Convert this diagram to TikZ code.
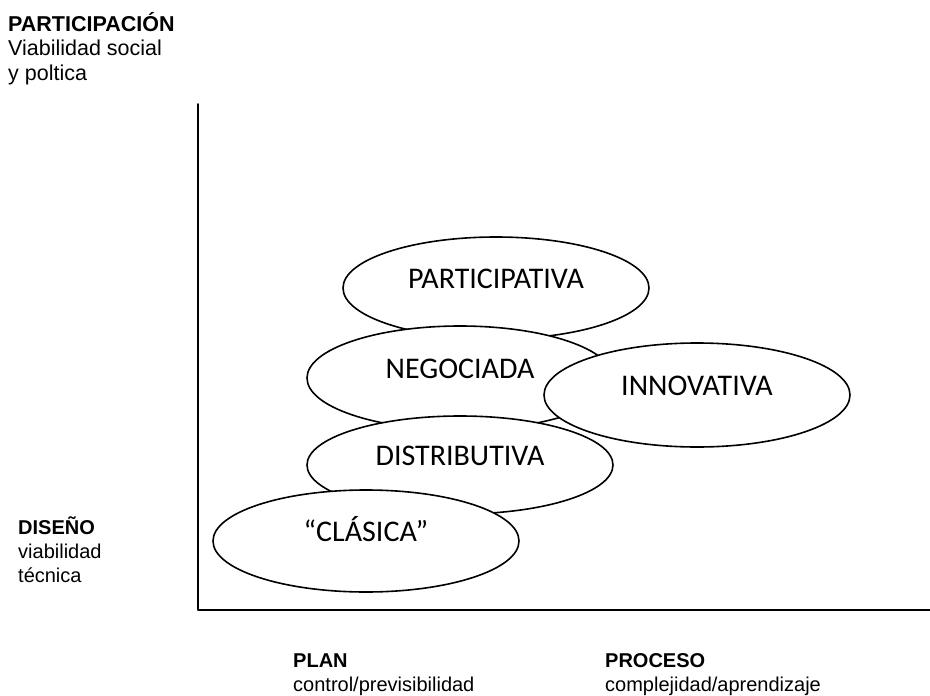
\documentclass[tikz,border=0pt]{standalone}
\usepackage{fontspec}
\setmainfont{Liberation Sans}
\newfontfamily\ovalfont{Carlito}
\usetikzlibrary{shapes.geometric}

\begin{document}
\begin{tikzpicture}[line cap=round,line join=round,x=1pt,y=-1pt,
  oval/.style={ellipse,draw,line width=1.6pt,fill=white,minimum width=306pt,minimum height=102pt,inner sep=0pt,
    font=\ovalfont\fontsize{30}{32}\selectfont,text height=18pt,text depth=18pt},
  axislabel/.style={anchor=base west,align=left,inner sep=0pt,font=\fontsize{20}{24}\selectfont}]
\useasboundingbox (0,0) rectangle (930,696);
% axes
\coordinate (origin) at (198,610);
\coordinate (ytop) at (198,104);
\coordinate (xend) at (931,610);
\draw[line width=1.6pt] (ytop)--(origin)--(xend);
% kinds of planning
\node[oval] (participativa) at (496,288) {PARTICIPATIVA};
\node[oval,minimum height=104pt] (negociada) at (460,378) {NEGOCIADA};
\node[oval,minimum height=104pt] (innovativa) at (697,395) {INNOVATIVA};
\node[oval,minimum height=98pt] (distributiva) at (460,465) {DISTRIBUTIVA};
\node[oval] (clasica) at (366,541) {“CLÁSICA”};
% axis labels (base = last line)
\node[axislabel,font=\fontsize{21.5}{24.5}\selectfont] (participacion) at (8,80) {\textbf{PARTICIPACIÓN}\\Viabilidad social\\y poltica};
\node[axislabel] (diseno) at (18,582) {\textbf{DISEÑO}\\viabilidad\\técnica};
\node[axislabel] (plan) at (293,691) {\textbf{PLAN}\\control/previsibilidad};
\node[axislabel] (proceso) at (605,691) {\textbf{PROCESO}\\complejidad/aprendizaje};
\end{tikzpicture}
\end{document}
